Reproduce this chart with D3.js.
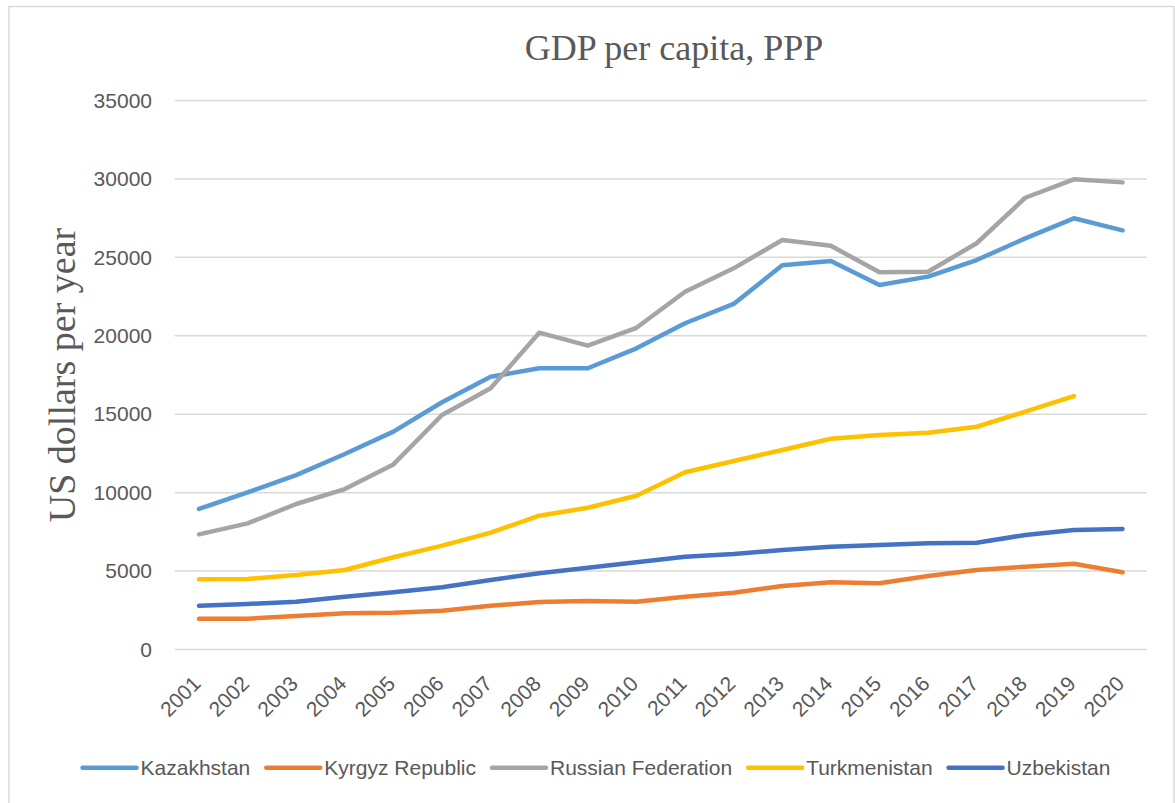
<!DOCTYPE html>
<html>
<head>
<meta charset="utf-8">
<script src="https://cdn.jsdelivr.net/npm/d3@7"></script>
<style>
  body { margin: 0; background: #fff; }
  svg { display: block; }
</style>
</head>
<body>
<div id="chart"></div>
<script>
var years = ['2001','2002','2003','2004','2005','2006','2007','2008','2009','2010',
             '2011','2012','2013','2014','2015','2016','2017','2018','2019','2020'];

var kazakhstan = [8960, 10020, 11120, 12460, 13890, 15760, 17390, 17930, 17930, 19200,
                  20800, 22030, 24490, 24770, 23240, 23770, 24830, 26210, 27490, 26720];
var kyrgyz = [1965, 1965, 2135, 2310, 2345, 2475, 2790, 3030, 3090, 3050,
              3370, 3620, 4050, 4280, 4220, 4685, 5070, 5280, 5470, 4920];
var russia = [7340, 8040, 9275, 10230, 11800, 14950, 16650, 20200, 19370, 20510,
              22810, 24300, 26110, 25740, 24045, 24085, 25900, 28800, 29975, 29780];
var turkmenistan = [4475, 4500, 4750, 5070, 5880, 6620, 7450, 8530, 9040, 9800,
                    11300, 12020, 12720, 13440, 13675, 13820, 14200, 15160, 16160, null];
var uzbekistan = [2790, 2900, 3050, 3370, 3650, 3965, 4430, 4860, 5215, 5560,
                  5915, 6090, 6340, 6550, 6660, 6770, 6810, 7300, 7620, 7680];

var yTicks = [0, 5000, 10000, 15000, 20000, 25000, 30000, 35000];

var series = [
  { name: 'Kazakhstan', values: kazakhstan, color: '#5B9BD5' },
  { name: 'Kyrgyz Republic', values: kyrgyz, color: '#ED7D31' },
  { name: 'Russian Federation', values: russia, color: '#A5A5A5' },
  { name: 'Turkmenistan', values: turkmenistan, color: '#FFC000' },
  { name: 'Uzbekistan', values: uzbekistan, color: '#4472C4' }
];

var width = 1175;
var height = 803;
var textColor = '#595959';
var sansFont = '"Liberation Sans", Arial, sans-serif';
var serifFont = '"Liberation Serif", "Times New Roman", serif';

var svg = d3.select('#chart')
  .append('svg')
  .attr('width', width)
  .attr('height', height);

// outer frame
svg.append('rect')
  .attr('x', 9)
  .attr('y', 6.5)
  .attr('width', 1165)
  .attr('height', 800)
  .attr('fill', 'none')
  .attr('stroke', '#d9d9d9')
  .attr('stroke-width', 1.5);

var x = d3.scaleBand()
  .domain(years)
  .range([174.7, 1146.8]);

var y = d3.scaleLinear()
  .domain([0, 35000])
  .range([649.5, 100.5]);

// gridlines
svg.append('g')
  .selectAll('line')
  .data(yTicks)
  .enter()
  .append('line')
  .attr('x1', x.range()[0])
  .attr('x2', x.range()[1])
  .attr('y1', (d) => y(d))
  .attr('y2', (d) => y(d))
  .attr('stroke', '#d9d9d9')
  .attr('stroke-width', 1.5);

// y axis labels
var yAxis = d3.axisLeft(y)
  .tickValues(yTicks)
  .tickSize(0)
  .tickPadding(0)
  .tickFormat(d3.format('d'));

var gy = svg.append('g')
  .attr('transform', 'translate(152,0)')
  .call(yAxis);
gy.select('.domain').remove();
gy.selectAll('text')
  .attr('fill', textColor)
  .style('font-family', sansFont)
  .style('font-size', '21px');

// x axis labels
var xAxis = d3.axisBottom(x)
  .tickSize(0)
  .tickPadding(0);

var gx = svg.append('g')
  .call(xAxis);
gx.select('.domain').remove();
gx.selectAll('.tick')
  .attr('transform', (d) => 'translate(' + (x(d) + x.bandwidth() / 2 + 3) + ',685)');
gx.selectAll('text')
  .attr('y', 0)
  .attr('dy', 0)
  .attr('text-anchor', 'end')
  .attr('transform', 'rotate(-45)')
  .attr('fill', textColor)
  .style('font-family', sansFont)
  .style('font-size', '21px');

// lines
var line = d3.line()
  .defined((d) => d != null)
  .x((d, i) => x(years[i]) + x.bandwidth() / 2)
  .y((d) => y(d));

svg.append('g')
  .selectAll('path')
  .data(series)
  .enter()
  .append('path')
  .attr('d', (d) => line(d.values))
  .attr('fill', 'none')
  .attr('stroke', (d) => d.color)
  .attr('stroke-width', 4.5)
  .attr('stroke-linejoin', 'round')
  .attr('stroke-linecap', 'round');

// title
svg.append('text')
  .attr('x', 674)
  .attr('y', 60)
  .attr('text-anchor', 'middle')
  .attr('fill', textColor)
  .style('font-family', serifFont)
  .style('font-size', '36px')
  .text('GDP per capita, PPP');

// y axis title
svg.append('text')
  .attr('transform', 'translate(75,375) rotate(-90)')
  .attr('text-anchor', 'middle')
  .attr('fill', textColor)
  .style('font-family', serifFont)
  .style('font-size', '38px')
  .text('US dollars per year');

// legend
var legendY = 767.7;
var legend = svg.append('g');
var items = legend.selectAll('g')
  .data(series)
  .enter()
  .append('g');

items.append('line')
  .attr('x1', 0)
  .attr('x2', 54)
  .attr('y1', 0)
  .attr('y2', 0)
  .attr('stroke', (d) => d.color)
  .attr('stroke-width', 4.5)
  .attr('stroke-linecap', 'round');

items.append('text')
  .attr('x', 58)
  .attr('y', 0)
  .attr('dy', '0.35em')
  .attr('fill', textColor)
  .style('font-family', sansFont)
  .style('font-size', '21px')
  .text((d) => d.name);

var widths = [];
items.each(function () {
  widths.push(58 + d3.select(this).select('text').node().getComputedTextLength());
});
var gap = 16;
var total = d3.sum(widths) + gap * (widths.length - 1);
var start = 596.5 - total / 2;
items.attr('transform', function (d, i) {
  var off = start + d3.sum(widths.slice(0, i)) + gap * i;
  return 'translate(' + off + ',' + legendY + ')';
});
</script>
</body>
</html>
